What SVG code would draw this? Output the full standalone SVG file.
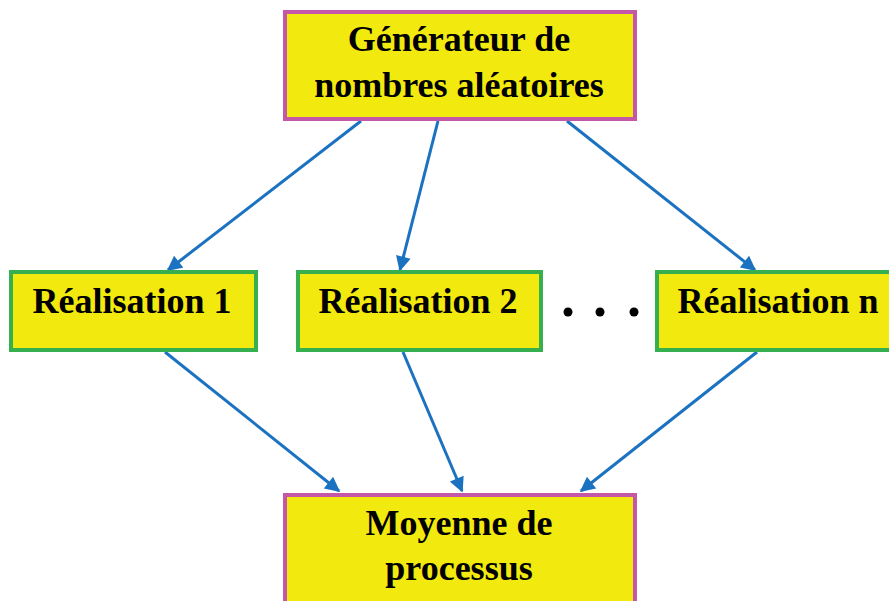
<svg xmlns="http://www.w3.org/2000/svg" width="889" height="601" viewBox="0 0 889 601">
<defs>
<style>
.pk{fill:#f2e90e;stroke:#c457a8;stroke-width:4}
.gr{fill:#f2e90e;stroke:#36b04e;stroke-width:4}
.t{font-family:"Liberation Serif","Times New Roman",serif;font-weight:bold;font-size:36px;fill:#000;text-anchor:middle}
.c{stroke:#1b72c0;stroke-width:3;fill:none;marker-end:url(#ah)}
</style>
<marker id="ah" viewBox="0 0 10 10" refX="9" refY="5" markerWidth="5.5" markerHeight="5" orient="auto" markerUnits="strokeWidth">
<path d="M0,0 L10,5 L0,10 z" fill="#1b72c0"/>
</marker>
</defs>
<rect width="889" height="601" fill="#fff"/>
<g id="connectors">
<line class="c" x1="361" y1="121" x2="168" y2="270"/>
<line class="c" x1="438" y1="121" x2="400" y2="270"/>
<line class="c" x1="567" y1="121" x2="755" y2="270"/>
<line class="c" x1="165" y1="352" x2="339" y2="491"/>
<line class="c" x1="403" y1="352" x2="462" y2="491"/>
<line class="c" x1="757" y1="352" x2="581" y2="491"/>
</g>
<g id="generateur">
<rect class="pk" x="285" y="12" width="350" height="107"/>
<text class="t" x="459" y="51">Générateur de</text>
<text class="t" x="459" y="97">nombres aléatoires</text>
</g>
<g id="realisation1">
<rect class="gr" x="11" y="272" width="245" height="78"/>
<text class="t" x="132" y="313">Réalisation 1</text>
</g>
<g id="realisation2">
<rect class="gr" x="298" y="272" width="243" height="78"/>
<text class="t" x="418" y="313">Réalisation 2</text>
</g>
<g id="dots">
<circle cx="568" cy="312" r="4.5" fill="#000"/>
<circle cx="600" cy="312" r="4.5" fill="#000"/>
<circle cx="634" cy="312" r="4.5" fill="#000"/>
</g>
<g id="realisationn">
<rect class="gr" x="657" y="272" width="240" height="78"/>
<text class="t" x="778" y="313">Réalisation n</text>
</g>
<g id="moyenne">
<rect class="pk" x="285" y="495" width="350" height="115"/>
<text class="t" x="459" y="535">Moyenne de</text>
<text class="t" x="459" y="580">processus</text>
</g>
</svg>
